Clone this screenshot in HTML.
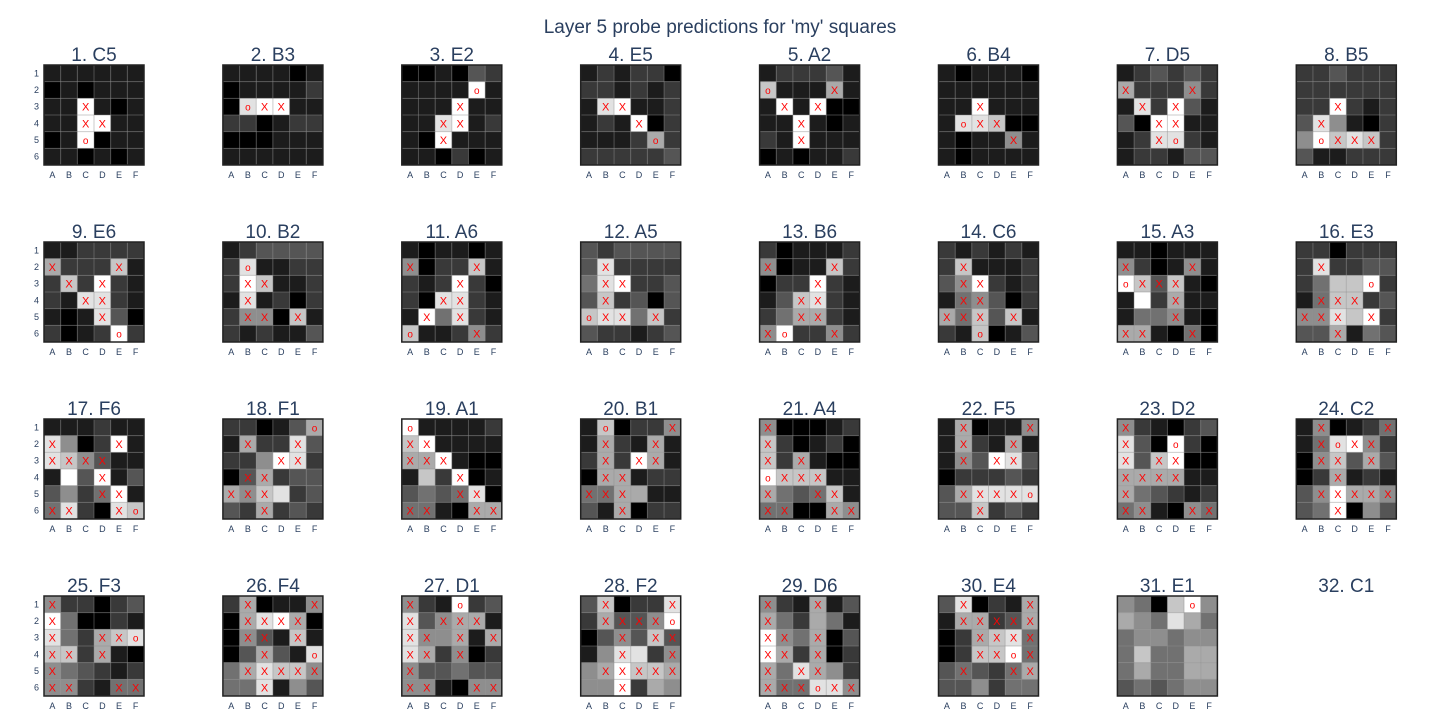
<!DOCTYPE html>
<html><head><meta charset="utf-8"><style>
html,body{margin:0;padding:0;background:#fff;}
svg{display:block;font-family:"Liberation Sans",sans-serif;}
</style></head><body>
<svg id="chart" width="1440" height="720" viewBox="0 0 1440 720">
<text x="720" y="33" text-anchor="middle" font-size="19" fill="#2a3f5f">Layer 5 probe predictions for 'my' squares</text>
<g id="plots"></g>
</svg>
<script>
const titles = ["1. C5","2. B3","3. E2","4. E5","5. A2","6. B4","7. D5","8. B5","9. E6","10. B2","11. A6","12. A5","13. B6","14. C6","15. A3","16. E3","17. F6","18. F1","19. A1","20. B1","21. A4","22. F5","23. D2","24. C2","25. F3","26. F4","27. D1","28. F2","29. D6","30. E4","31. E1","32. C1"];
const colLabels = ["A","B","C","D","E","F"];
const rowLabels = ["1","2","3","4","5","6"];
// brightness 0..9 per cell, row-major (rows 1..6, cols A..F)
const values = [
[1,1,1,1,1,1, 0,1,0,1,1,1, 1,1,9,1,0,1, 1,1,9,9,1,1, 0,1,9,0,1,1, 1,1,0,1,0,1],
[1,1,1,1,0,1, 0,1,1,1,1,2, 0,8,9,9,1,1, 2,2,0,1,2,2, 0,0,0,1,1,1, 1,1,1,1,1,1],
[0,0,1,0,3,2, 1,1,1,1,9,1, 1,1,1,9,1,1, 1,1,8,9,1,2, 1,0,9,1,1,1, 1,1,0,2,0,1],
[1,2,1,2,2,0, 2,2,1,2,1,2, 1,8,9,1,1,2, 1,2,1,9,0,2, 1,1,1,2,6,2, 2,2,2,2,2,3],
[1,2,2,2,3,1, 7,1,1,1,6,1, 1,9,1,9,0,0, 1,1,9,1,0,1, 2,1,9,1,1,1, 0,1,0,1,1,2],
[1,0,1,1,1,0, 1,1,1,1,1,1, 1,1,9,1,1,1, 1,8,8,7,0,0, 1,0,1,1,5,1, 1,0,1,1,1,1],
[1,2,3,2,3,2, 6,2,2,2,5,2, 1,8,2,9,3,1, 3,0,9,9,1,1, 1,2,8,8,2,1, 1,2,2,1,3,3],
[2,2,3,2,2,2, 2,2,2,2,2,2, 2,2,9,2,1,2, 3,8,5,1,0,2, 5,9,7,8,7,2, 3,1,1,2,2,2],
[1,1,2,2,2,2, 6,2,2,2,7,1, 2,7,2,9,2,1, 2,1,8,8,2,1, 1,0,1,8,3,0, 2,0,1,2,9,2],
[1,2,3,3,3,3, 2,8,1,1,2,2, 2,9,7,1,1,2, 1,8,1,2,0,2, 2,5,5,0,7,1, 2,1,2,1,1,3],
[1,0,1,1,0,1, 5,0,2,2,7,1, 2,1,2,9,2,0, 2,0,8,8,2,1, 1,9,4,8,2,1, 7,1,1,2,5,2],
[3,2,3,3,3,3, 3,8,2,2,2,2, 4,8,9,2,2,3, 3,7,2,3,0,3, 7,8,8,4,7,2, 3,2,2,1,2,3],
[2,0,1,1,1,2, 5,0,1,1,7,2, 0,2,2,9,2,1, 1,3,7,8,2,1, 2,4,6,6,2,1, 5,9,2,2,5,2],
[2,1,2,1,2,1, 2,7,1,1,1,2, 3,5,9,2,1,2, 1,4,5,3,0,2, 6,4,7,3,7,1, 2,1,7,0,1,3],
[1,1,0,1,1,1, 5,2,0,1,5,1, 9,7,3,7,1,0, 1,9,2,6,1,1, 1,4,4,5,1,0, 6,6,1,0,4,0],
[2,2,0,2,2,2, 2,8,2,2,3,3, 2,4,7,7,9,2, 1,4,7,7,2,3, 5,5,8,7,9,2, 3,3,6,1,4,3],
[1,1,1,2,1,1, 8,5,0,2,9,1, 8,7,5,3,1,1, 1,9,3,9,1,3, 3,5,2,4,9,1, 4,8,2,0,8,7],
[2,2,0,1,3,6, 1,6,2,2,8,3, 2,2,5,9,8,2, 0,3,6,2,3,3, 6,5,7,8,2,3, 3,2,6,2,3,2],
[9,1,1,1,1,2, 7,9,1,1,1,1, 6,6,9,1,0,0, 1,7,2,9,0,1, 3,4,3,4,8,0, 4,4,1,0,6,6],
[1,7,0,2,2,5, 1,6,2,1,6,1, 2,6,2,9,6,1, 0,6,6,1,2,2, 4,4,6,6,1,1, 3,1,6,0,2,2],
[5,0,0,0,1,2, 7,2,0,1,2,0, 7,2,6,1,0,0, 9,7,7,7,1,1, 6,4,3,4,7,1, 4,4,0,0,6,5],
[1,6,0,1,1,5, 1,6,2,1,6,1, 1,5,3,9,8,3, 0,2,2,2,3,2, 3,6,8,8,8,8, 3,3,7,2,3,2],
[5,2,1,0,2,3, 8,3,0,9,2,0, 8,3,7,9,0,0, 6,6,6,6,1,1, 6,4,3,2,1,2, 4,5,1,0,5,4],
[1,5,0,1,2,4, 1,4,8,9,5,2, 0,5,7,3,6,3, 0,2,6,1,2,1, 3,5,9,6,6,5, 3,4,9,0,5,3],
[5,2,2,0,2,3, 9,4,0,0,2,1, 8,4,2,6,7,8, 7,7,2,6,1,0, 5,4,3,2,1,2, 5,5,2,1,4,4],
[2,6,0,1,1,5, 0,6,8,9,6,0, 0,5,3,1,7,1, 0,3,6,3,1,8, 4,6,8,7,7,5, 4,4,8,1,5,3],
[5,2,1,9,2,3, 8,3,5,6,6,1, 8,5,5,6,1,6, 8,6,2,5,0,2, 5,3,3,4,3,3, 5,5,1,0,5,5],
[3,7,0,2,2,8, 2,6,3,3,5,9, 0,3,5,3,7,3, 1,5,8,8,2,5, 5,6,9,7,7,6, 5,5,9,2,6,5],
[5,2,1,6,1,3, 6,4,2,6,4,1, 9,5,4,6,0,3, 9,6,2,6,0,2, 6,4,8,6,5,2, 6,4,4,8,8,5],
[3,8,0,2,1,6, 1,6,6,2,3,6, 0,2,6,7,8,4, 0,2,7,7,9,4, 3,4,3,2,4,6, 3,3,5,2,4,4],
[5,4,0,7,9,5, 6,5,4,8,6,4, 4,5,5,4,5,5, 4,7,4,4,6,6, 4,6,4,4,6,6, 3,4,3,4,5,5]
];
// cell annotations: x = predicted, o = actual move, . = none
const marks = [
"......" + "......" + "..x..." + "..xx.." + "..o..." + "......",
"......" + "......" + ".oxx.." + "......" + "......" + "......",
"......" + "....o." + "...x.." + "..xx.." + "..x..." + "......",
"......" + "......" + ".xx..." + "...x.." + "....o." + "......",
"......" + "o...x." + ".x.x.." + "..x..." + "..x..." + "......",
"......" + "......" + "..x..." + ".oxx.." + "....x." + "......",
"......" + "x...x." + ".x.x.." + "..xx.." + "..xo.." + "......",
"......" + "......" + "..x..." + ".x...." + ".oxxx." + "......",
"......" + "x...x." + ".x.x.." + "..xx.." + "...x.." + "....o.",
"......" + ".o...." + ".xx..." + ".x...." + ".xx.x." + "......",
"......" + "x...x." + "...x.." + "..xx.." + ".x.x.." + "o...x.",
"......" + ".x...." + ".xx..." + ".x...." + "oxx.x." + "......",
"......" + "x...x." + "...x.." + "..xx.." + "..xx.." + "xo..x.",
"......" + ".x...." + ".xx..." + ".xx..." + "xxx.x." + "..o...",
"......" + "x...x." + "oxxx.." + "...x.." + "...x.." + "xx..x.",
"......" + ".x...." + "....o." + ".xxx.." + "xxx.x." + "..x...",
"......" + "x...x." + "xxxx.." + "...x.." + "...xx." + "xx..xo",
".....o" + ".x..x." + "...xx." + ".xx..." + "xxx..." + "..x...",
"o....." + "xx...." + "xxx..." + "...x.." + "...xx." + "xx..xx",
".o...x" + ".x..x." + ".x.xx." + ".xx..." + "xxx..." + "..x...",
"x....." + "x....." + "x.x..." + "oxxx.." + "x..xx." + "xx..xx",
".x...x" + ".x..x." + ".x.xx." + "......" + ".xxxxo" + "..x...",
"x....." + "x..o.." + "x.xx.." + "xxxx.." + "x....." + "xx..xx",
".x...x" + ".xoxx." + ".xx.x." + "..x..." + ".xxxxx" + "..x...",
"x....." + "x....." + "x..xxo" + "xx.x.." + "x....." + "xx..xx",
".x...x" + ".xxxx." + ".xx.x." + "..x..o" + ".xxxxx" + "..x...",
"x..o.." + "x.xxx." + "xx.x.x" + "xx.x.." + "x....." + "xx..xx",
".x...x" + ".xxxxo" + "..x.xx" + "..x..x" + ".xxxxx" + "..x...",
"x..x.." + "x....." + "xx.x.." + "xx.x.." + "x.xx.." + "xxxoxx",
".x...x" + ".xxxxx" + "..xxxx" + "..xxox" + ".x..xx" + "......",
"....o." + "......" + "......" + "......" + "......" + "......"
];

const NS = "http://www.w3.org/2000/svg";
const root = document.getElementById("plots");
const colX0 = 44, colStep = 178.9, rowY0 = 65, rowStep = 177, size = 100;
function mk(tag, attrs, parent) {
  const e = document.createElementNS(NS, tag);
  for (const k in attrs) e.setAttribute(k, attrs[k]);
  parent.appendChild(e);
  return e;
}
function xScale(c, x0) { return x0 + c * size / 6; }
function yScale(r, y0) { return y0 + r * size / 6; }
function grayOf(v) { const g = Math.round(Math.min(255, v * 28.3)); return "rgb(" + g + "," + g + "," + g + ")"; }

titles.forEach((t, i) => {
  const x0 = colX0 + (i % 8) * colStep;
  const y0 = rowY0 + Math.floor(i / 8) * rowStep;
  const g = mk("g", {}, root);
  
  
  const tt = mk("text", {x: x0 + size / 2, y: y0 - 4, "text-anchor": "middle", "font-size": "19", fill: "#2a3f5f"}, g);
  tt.textContent = t;
  
  
  const vals = values[i];
  if (vals) {
    const hm = mk("g", {}, g);
    
    
    for (let r = 0; r < 6; r++) {
      for (let c = 0; c < 6; c++) {
        const v = vals[r * 6 + c];
        const cell = mk("rect", {x: xScale(c, x0), y: yScale(r, y0), width: size / 6, height: size / 6, fill: grayOf(v)}, hm);
        
        
        const m = marks[i][r * 6 + c];
        if (m === "x" || m === "o") {
          const tx = mk("text", {x: xScale(c + 0.5, x0), y: yScale(r + 0.5, y0) + 4, "text-anchor": "middle", "font-size": m === "x" ? "11" : "10", fill: "#ff0000"}, hm);
          tx.textContent = m === "x" ? "X" : "o";
          
          
        }
      }
    }
    for (let k = 1; k < 6; k++) {
      mk("line", {x1: xScale(k, x0), x2: xScale(k, x0), y1: y0, y2: y0 + size, stroke: "rgba(140,140,140,0.45)", "stroke-width": 1}, hm);
      mk("line", {y1: yScale(k, y0), y2: yScale(k, y0), x1: x0, x2: x0 + size, stroke: "rgba(140,140,140,0.45)", "stroke-width": 1}, hm);
    }
    const fr = mk("rect", {x: x0, y: y0, width: size, height: size, fill: "none", stroke: "#222", "stroke-width": 1.5}, hm);
    
    
    colLabels.forEach((l, c) => {
      const tx = mk("text", {x: xScale(c + 0.5, x0), y: y0 + size + 13, "text-anchor": "middle", "font-size": "9", fill: "#2a3f5f"}, g);
      tx.textContent = l;
      
      
    });
    if (i === 0 || i % 8 === 0) {
      rowLabels.forEach((l, r) => {
        const tx = mk("text", {x: x0 - 5, y: yScale(r + 0.5, y0) + 3, "text-anchor": "end", "font-size": "9", fill: "#2a3f5f"}, g);
        tx.textContent = l;
        
        
      });
    }
  }
});
</script>
</body></html>
